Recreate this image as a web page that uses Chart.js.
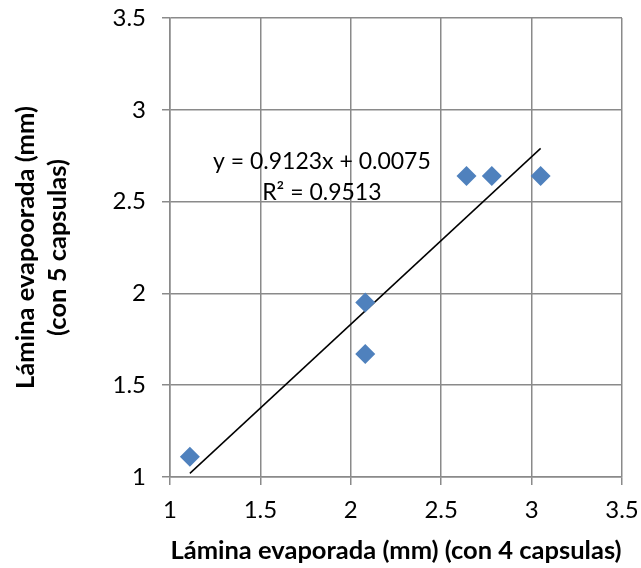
<!DOCTYPE html>
<html>
<head>
<meta charset="utf-8">
<script src="https://cdn.jsdelivr.net/npm/chart.js@4"></script>
<style>
  html, body { margin: 0; padding: 0; background: #fff; }
  #wrap { width: 641px; height: 568px; }
</style>
</head>
<body>
<div id="wrap"><canvas id="myChart" width="641" height="568"></canvas></div>
<script>
// measured values (mm)
const con4 = [1.11, 2.08, 2.08, 2.64, 2.78, 3.05];
const con5 = [1.11, 1.95, 1.67, 2.64, 2.64, 2.64];
// linear trendline ends (y = 0.9123x + 0.0075)
const trendX = [1.11, 3.05];
const trendY = [1.02, 2.79];
const eqLines = ['y = 0.9123x + 0.0075', 'R² = 0.9513'];

const gridColor = '#8a8a8a';
const fontFamily = 'Lato, "Open Sans", sans-serif';

const eqLabel = {
  id: 'eqLabel',
  afterDatasetsDraw(chart) {
    const x = chart.scales.x, y = chart.scales.y, ctx = chart.ctx;
    const px = x.getPixelForValue(1.84);
    const py = y.getPixelForValue(2.72);
    ctx.save();
    ctx.font = '23px ' + fontFamily;
    ctx.fillStyle = '#000';
    ctx.textAlign = 'center';
    ctx.textBaseline = 'middle';
    eqLines.forEach(function(t, i) { ctx.fillText(t, px, py + i * 31); });
    ctx.restore();
  }
};

// keep the plot area where the reference has it
function noPad(s) {
  s.paddingTop = 0; s.paddingBottom = 0; s.paddingLeft = 0; s.paddingRight = 0;
}

document.addEventListener('DOMContentLoaded', function() {
  const ctx = document.getElementById('myChart');

  new Chart(ctx, {
    type: 'scatter',
    data: {
      datasets: [{
        label: 'datos',
        data: con4.map((v, i) => ({x: v, y: con5[i]})),
        pointStyle: 'rectRot',
        pointRadius: 10,
        pointHoverRadius: 10,
        backgroundColor: '#4f81bd',
        borderColor: '#4f81bd',
        borderWidth: 0
      },
      {
        label: 'tendencia',
        type: 'line',
        data: trendX.map((v, i) => ({x: v, y: trendY[i]})),
        borderColor: '#000',
        borderWidth: 1.5,
        pointRadius: 0,
        fill: false
      }]
    },
    options: {
      responsive: false,
      animation: false,
      layout: { padding: { top: 18, right: 19, left: 0, bottom: 0 } },
      plugins: { legend: { display: false }, tooltip: { enabled: false } },
      scales: {
        x: {
          type: 'linear',
          min: 1, max: 3.5,
          ticks: { stepSize: 0.5, color: '#000', padding: 11, font: { family: fontFamily, size: 24 },
                   callback: v => String(v) },
          grid: { color: gridColor, lineWidth: 1.5, tickLength: 8 },
          border: { color: gridColor, width: 1.5 },
          title: {
            display: true,
            text: 'Lámina evaporada (mm) (con 4 capsulas)',
            color: '#000',
            font: { family: fontFamily, size: 25.5, weight: 'bold', lineHeight: 1.2 },
            padding: { top: 0, bottom: 2 }
          },
          afterFit(s) { noPad(s); s.height = 91; }
        },
        y: {
          type: 'linear',
          min: 1, max: 3.5,
          ticks: { stepSize: 0.5, color: '#000', padding: 16, font: { family: fontFamily, size: 24 },
                   callback: v => String(v) },
          grid: { color: gridColor, lineWidth: 1.5, tickLength: 8 },
          border: { color: gridColor, width: 1.5 },
          title: {
            display: true,
            text: ['Lámina evapoorada (mm)', '(con 5 capsulas)'],
            color: '#000',
            font: { family: fontFamily, size: 25.5, weight: 'bold', lineHeight: 1.25 },
            padding: { top: 10, bottom: 0 }
          },
          afterFit(s) { noPad(s); s.width = 170; }
        }
      }
    },
    plugins: [eqLabel]
  });
});
</script>
</body>
</html>
